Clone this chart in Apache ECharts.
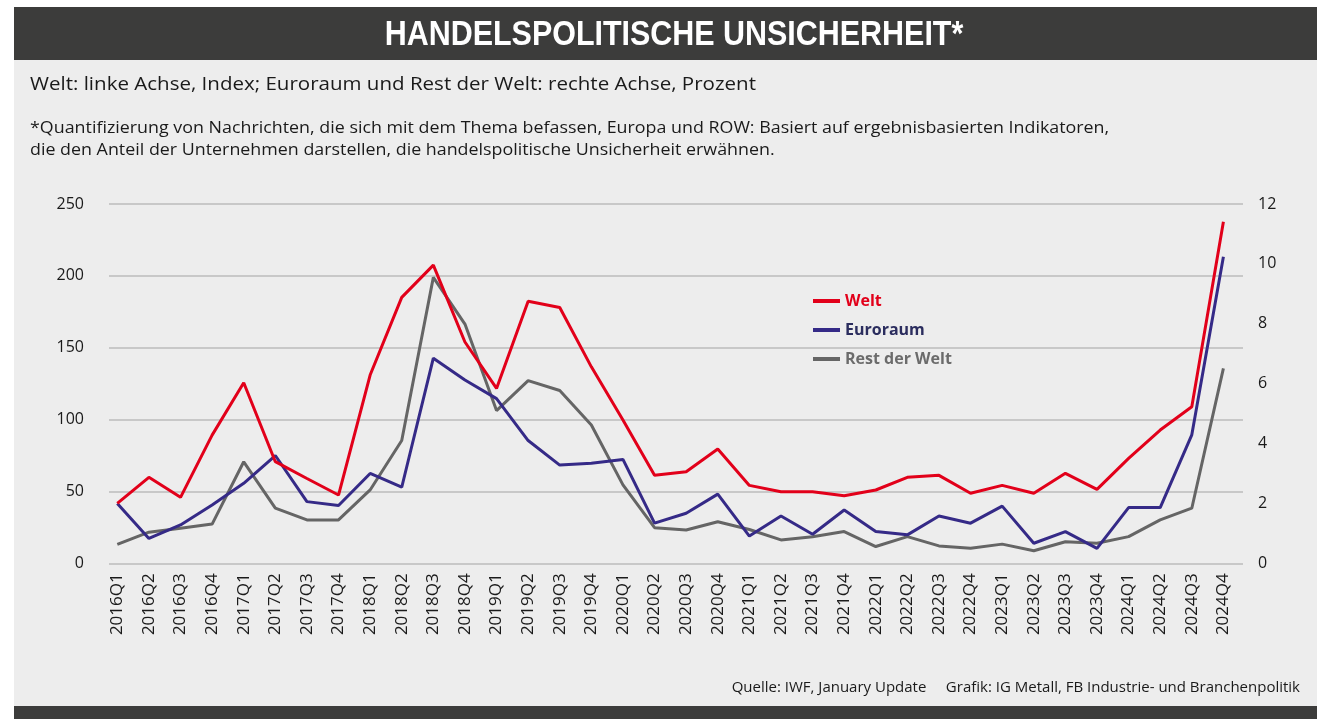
<!DOCTYPE html>
<html>
<head>
<meta charset="utf-8">
<title>Handelspolitische Unsicherheit</title>
<script src="https://cdn.jsdelivr.net/npm/echarts@6/dist/echarts.min.js"></script>
<style>
  html, body { margin: 0; padding: 0; background: #fff; }
  #chart { width: 1317px; height: 719px; }
</style>
</head>
<body>
<div id="chart"></div>
<script>
// quarters on the x axis
const quarters = [
  '2016Q1', '2016Q2', '2016Q3', '2016Q4', '2017Q1', '2017Q2', '2017Q3', '2017Q4',
  '2018Q1', '2018Q2', '2018Q3', '2018Q4', '2019Q1', '2019Q2', '2019Q3', '2019Q4',
  '2020Q1', '2020Q2', '2020Q3', '2020Q4', '2021Q1', '2021Q2', '2021Q3', '2021Q4',
  '2022Q1', '2022Q2', '2022Q3', '2022Q4', '2023Q1', '2023Q2', '2023Q3', '2023Q4',
  '2024Q1', '2024Q2', '2024Q3', '2024Q4'
]
// Welt, index (left axis)
const welt = [41.7, 59.8, 45.9, 89.2, 125.6, 70.7, 59, 47.5, 131, 185, 207.5, 154,
  121.7, 182.4, 178, 136.7, 99.7, 61.2, 63.7, 79.5, 54.2, 49.8, 49.8, 47,
  51, 59.8, 61.2, 48.7, 54.2, 48.7, 62.6, 51.4, 73, 92.7, 108.9, 237.6]
// Euroraum, percent (right axis)
const euroraum = [2.0, 0.83, 1.28, 1.95, 2.67, 3.6, 2.06, 1.93, 3.0, 2.54, 6.85, 6.12,
  5.5, 4.1, 3.28, 3.34, 3.47, 1.34, 1.67, 2.31, 0.91, 1.58, 0.97, 1.78,
  1.06, 0.95, 1.58, 1.34, 1.91, 0.67, 1.06, 0.5, 1.86, 1.86, 4.29, 10.24]
// Rest der Welt, percent (right axis)
const restDerWelt = [0.63, 1.04, 1.17, 1.31, 3.39, 1.84, 1.45, 1.45, 2.45, 4.1, 9.55, 7.99,
  5.1, 6.1, 5.77, 4.62, 2.62, 1.19, 1.11, 1.39, 1.13, 0.78, 0.89, 1.06,
  0.56, 0.89, 0.58, 0.5, 0.64, 0.42, 0.72, 0.67, 0.89, 1.45, 1.84, 6.51]
const leftTicks = [0, 250, 50]   // min, max, interval
const rightTicks = [0, 12, 2]

const RED = '#e2001a'
const BLUE = '#352a87'
const GRAY = '#656565'
const tickFont = '"Open Sans", "Noto Sans", sans-serif'
const textFont = '"Open Sans", "Noto Sans", sans-serif'

const pairs = arr => arr.map((v, i) => [i, v])

const chart = echarts.init(document.getElementById('chart'))
const option = {
  backgroundColor: '#ffffff',
  animation: false,
  graphic: [
    { type: 'rect', z: -10, silent: true, shape: { x: 14, y: 60, width: 1303, height: 646 }, style: { fill: '#ededed' } },
    { type: 'rect', z: -10, silent: true, shape: { x: 14, y: 7, width: 1303, height: 53 }, style: { fill: '#3c3c3b' } },
    { type: 'rect', z: -10, silent: true, shape: { x: 14, y: 706, width: 1303, height: 13 }, style: { fill: '#3c3c3b' } },
    {
      type: 'text', x: 674, y: 35, scaleX: 0.87,
      style: {
        text: 'HANDELSPOLITISCHE UNSICHERHEIT*', fill: '#ffffff',
        font: 'bold 35px "Liberation Sans", "DejaVu Sans", sans-serif',
        textAlign: 'center', textVerticalAlign: 'middle'
      }
    },
    {
      type: 'text', x: 30, y: 85, scaleX: 1.08,
      style: {
        text: 'Welt: linke Achse, Index; Euroraum und Rest der Welt: rechte Achse, Prozent',
        fill: '#1a1a1a', font: '19px ' + textFont, textVerticalAlign: 'middle'
      }
    },
    {
      type: 'text', x: 30, y: 128, scaleX: 1.05,
      style: {
        text: '*Quantifizierung von Nachrichten, die sich mit dem Thema befassen, Europa und ROW: Basiert auf ergebnisbasierten Indikatoren,',
        fill: '#1a1a1a', font: '17px ' + textFont, textVerticalAlign: 'middle'
      }
    },
    {
      type: 'text', x: 30, y: 150, scaleX: 1.05,
      style: {
        text: 'die den Anteil der Unternehmen darstellen, die handelspolitische Unsicherheit erwähnen.',
        fill: '#1a1a1a', font: '17px ' + textFont, textVerticalAlign: 'middle'
      }
    },
    {
      type: 'text', x: 1300, y: 688,
      style: {
        text: 'Quelle: IWF, January Update     Grafik: IG Metall, FB Industrie- und Branchenpolitik',
        fill: '#1a1a1a', font: '15px ' + textFont, textAlign: 'right', textVerticalAlign: 'middle'
      }
    }
  ],
  grid: { left: 109, right: 74, top: 204, bottom: 155.7 },
  legend: {
    orient: 'vertical',
    left: 808,
    top: 288,
    itemWidth: 27,
    itemHeight: 4,
    itemGap: 13,
    icon: 'rect',
    textStyle: { fontFamily: textFont, fontSize: 16, fontWeight: 'bold' },
    data: [
      { name: 'Welt', textStyle: { color: RED } },
      { name: 'Euroraum', textStyle: { color: '#2b2d5e' } },
      { name: 'Rest der Welt', textStyle: { color: '#6b6b6b' } }
    ]
  },
  xAxis: {
    type: 'value',
    min: -0.263,
    max: 35.62,
    axisLine: { show: false },
    axisTick: { show: false },
    splitLine: { show: false },
    axisLabel: {
      customValues: quarters.map((q, i) => i),
      formatter: v => quarters[Math.round(v)],
      rotate: 90,
      margin: 10,
      color: '#1a1a1a',
      fontFamily: tickFont,
      fontSize: 17
    }
  },
  yAxis: [
    {
      type: 'value',
      min: leftTicks[0],
      max: leftTicks[1],
      interval: leftTicks[2],
      axisLine: { show: false },
      axisTick: { show: false },
      splitLine: { lineStyle: { color: '#c8c8c8', width: 2 } },
      axisLabel: { margin: 25, color: '#1a1a1a', fontFamily: tickFont, fontSize: 16 }
    },
    {
      type: 'value',
      min: rightTicks[0],
      max: rightTicks[1],
      interval: rightTicks[2],
      axisLine: { show: false },
      axisTick: { show: false },
      splitLine: { show: false },
      axisLabel: { margin: 15, color: '#1a1a1a', fontFamily: tickFont, fontSize: 16 }
    }
  ],
  series: [
    {
      name: 'Welt', type: 'line', yAxisIndex: 0, data: pairs(welt),
      showSymbol: false, color: RED, lineStyle: { width: 3, color: RED }, z: 4
    },
    {
      name: 'Euroraum', type: 'line', yAxisIndex: 1, data: pairs(euroraum),
      showSymbol: false, color: BLUE, lineStyle: { width: 3, color: BLUE }, z: 3
    },
    {
      name: 'Rest der Welt', type: 'line', yAxisIndex: 1, data: pairs(restDerWelt),
      showSymbol: false, color: GRAY, lineStyle: { width: 3, color: GRAY }, z: 2
    }
  ]
}
chart.setOption(option)
</script>
</body>
</html>
